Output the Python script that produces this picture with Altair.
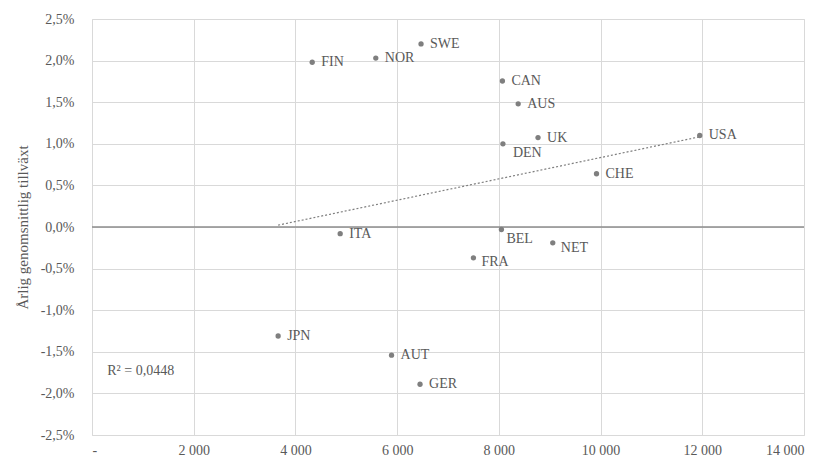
import altair as alt
import pandas as pd

# ---- data ----
countries = ["FIN", "NOR", "SWE", "CAN", "AUS", "UK", "DEN", "USA", "CHE",
             "BEL", "ITA", "NET", "FRA", "JPN", "AUT", "GER"]
x_values = [4330, 5580, 6470, 8070, 8380, 8770, 8080, 11950, 9920,
            8050, 4880, 9060, 7500, 3660, 5890, 6450]
growth = [1.98, 2.03, 2.20, 1.755, 1.48, 1.075, 1.00, 1.10, 0.64,
          -0.03, -0.08, -0.19, -0.37, -1.31, -1.54, -1.89]

y_title = "Årlig genomsnittlig tillväxt"
r2_text = "R² = 0,0448"
r2_pos_x = 300
r2_pos_y = -1.73

x_ticks = [0, 2000, 4000, 6000, 8000, 10000, 12000, 14000]
y_ticks = [-2.5, -2.0, -1.5, -1.0, -0.5, 0.0, 0.5, 1.0, 1.5, 2.0, 2.5]

df = pd.DataFrame({"country": countries, "x": x_values, "growth": growth})

FONT = "Liberation Serif"
TXT = "#595959"
GRID = "#d9d9d9"
DOT = "#7f7f7f"

x_scale = alt.Scale(domain=[0, 14000], nice=False, zero=False)
y_scale = alt.Scale(domain=[-2.5, 2.5], nice=False, zero=False)

x_axis = alt.Axis(
    values=x_ticks, grid=True, gridColor=GRID, domain=False, ticks=False,
    labelExpr="datum.value == 0 ? '-' : replace(format(datum.value, ','), ',', ' ')",
    labelPadding=8, labelFont=FONT, labelFontSize=14, labelColor=TXT, title=None,
)
y_axis = alt.Axis(
    values=y_ticks, grid=True, gridColor=GRID, domain=False, ticks=False,
    labelExpr="(datum.value < 0 ? '-' : '') + replace(format(abs(datum.value), '.1f'), '.', ',') + '%'",
    labelPadding=18, labelFont=FONT, labelFontSize=14, labelColor=TXT,
    title=y_title, titleFont=FONT, titleFontSize=15, titleColor=TXT,
    titleFontWeight="normal", titlePadding=10,
)

base = alt.Chart(df)

points = base.mark_circle(size=28, color=DOT, opacity=1).encode(
    x=alt.X("x:Q", scale=x_scale, axis=x_axis),
    y=alt.Y("growth:Q", scale=y_scale, axis=y_axis),
)

zero_line = alt.Chart(pd.DataFrame({"y": [0.0]})).mark_rule(
    color="#8c8c8c", strokeWidth=1.3
).encode(y=alt.Y("y:Q", scale=y_scale))

trend = base.transform_regression("x", "growth").mark_line(
    color="#7f7f7f", strokeDash=[2, 2], strokeWidth=1.2
).encode(
    x=alt.X("x:Q", scale=x_scale),
    y=alt.Y("growth:Q", scale=y_scale),
)

label_offsets = {"DEN": (10, 9), "BEL": (5, 10), "NET": (8, 5), "FRA": (8, 4)}
special = list(label_offsets.keys())

def label_layer(dx, dy, filt):
    return base.transform_filter(filt).mark_text(
        align="left", baseline="middle", dx=dx, dy=dy,
        font=FONT, fontSize=14, color=TXT,
    ).encode(
        x=alt.X("x:Q", scale=x_scale),
        y=alt.Y("growth:Q", scale=y_scale),
        text="country:N",
    )

labels = [label_layer(9, 0, alt.FieldOneOfPredicate(field="country", oneOf=special).__invert__())]
for c, (dx, dy) in label_offsets.items():
    labels.append(label_layer(dx, dy, alt.FieldEqualPredicate(field="country", equal=c)))

r2 = alt.Chart(pd.DataFrame({"x": [r2_pos_x], "y": [r2_pos_y], "t": [r2_text]})).mark_text(
    align="left", baseline="middle", font=FONT, fontSize=14, color=TXT
).encode(
    x=alt.X("x:Q", scale=x_scale),
    y=alt.Y("y:Q", scale=y_scale),
    text="t:N",
)

chart = alt.layer(zero_line, trend, points, *labels, r2).properties(
    width=712, height=416,
    autosize=alt.AutoSizeParams(type="none"),
    padding={"left": 84, "top": 11, "right": 20, "bottom": 30},
).configure_view(stroke=None).configure(background="white")

chart.save("out.html", embed_options={"renderer": "svg", "actions": False})
